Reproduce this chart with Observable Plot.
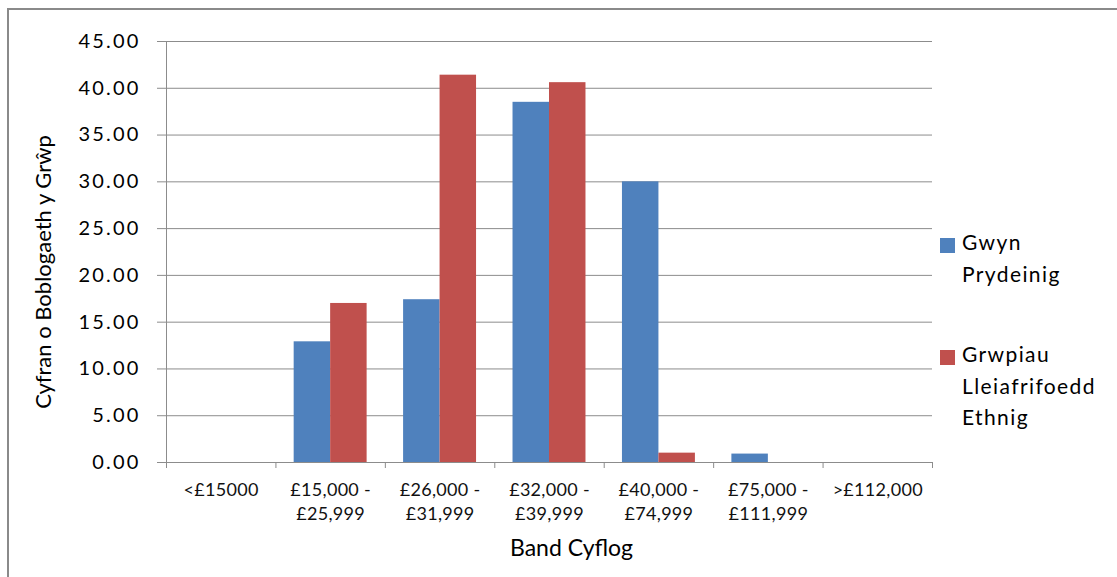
<!DOCTYPE html>
<html>
<head>
<meta charset="utf-8">
<script src="https://cdn.jsdelivr.net/npm/d3@7"></script>
<script src="https://cdn.jsdelivr.net/npm/@observablehq/plot@0.6"></script>
<style>
  html, body { margin: 0; padding: 0; background: #fff; overflow: hidden; }
  #wrap { position: relative; width: 1117px; height: 577px; font-family: Lato, "Open Sans", sans-serif; }
  #frame { position: absolute; left: 7px; top: 8px; width: 1200px; height: 700px; border: 2px solid #8a8a8a; box-sizing: border-box; }
  #chart { position: absolute; left: 0; top: 0; }
  #chart g[aria-label="y-axis tick label"] text { letter-spacing: 2.2px; }
  #chart g[aria-label="x-axis tick label"] text { letter-spacing: 0.3px; }
  #chart g[aria-label="x-title"] text { letter-spacing: 1.1px; }
  #chart g[aria-label="y-title"] text { letter-spacing: 2.4px; }
  .legend { position: absolute; left: 940px; font-size: 21px; line-height: 31.5px; color: #000; letter-spacing: 1.4px; }
  .legend .sw { position: absolute; left: 0; width: 15px; height: 15px; }
  .legend .lbl { position: absolute; left: 22px; white-space: nowrap; }
</style>
</head>
<body>
<div id="wrap">
  <div id="frame"></div>
  <div id="chart"></div>
  <div id="legend"></div>
</div>
<script>
// Salary bands (x categories)
const categories = [
  "<£15000",
  "£15,000 -\n£25,999",
  "£26,000 -\n£31,999",
  "£32,000 -\n£39,999",
  "£40,000 -\n£74,999",
  "£75,000 -\n£111,999",
  ">£112,000"
];

// Series names and values (% of group population)
const seriesNames = ["Gwyn Prydeinig", "Grwpiau Lleiafrifoedd Ethnig"];
const legendLines = [["Gwyn", "Prydeinig"], ["Grwpiau", "Lleiafrifoedd", "Ethnig"]];
const gwynPrydeinig = [0, 12.9, 17.4, 38.5, 30.0, 0.9, 0];
const grwpiauLleiafrifoeddEthnig = [0, 17.0, 41.4, 40.6, 1.0, 0, 0];
const seriesColors = ["#4F81BD", "#C0504D"];

// Axis ticks
const yTicks = [0, 5, 10, 15, 20, 25, 30, 35, 40, 45];
const yTitle = "Cyfran o Boblogaeth y Grŵp";
const xTitle = "Band Cyflog";

const seriesValues = [gwynPrydeinig, grwpiauLleiafrifoeddEthnig];
const rows = categories.flatMap((c, i) =>
  seriesValues.map((vals, s) => ({i, category: c, series: seriesNames[s], s, value: vals[i]}))
);

// Each band is one unit wide; the two bars share its middle two thirds
const nSeries = seriesNames.length;
const barW = 1 / (nSeries + 1);
const x1 = d => d.i + barW / 2 + d.s * barW;
const x2 = d => x1(d) + barW;

const gray = "#8c8c8c";

const chart = Plot.plot({
  width: 1117,
  height: 577,
  marginLeft: 166,
  marginRight: 185,
  marginTop: 41,
  marginBottom: 115,
  style: {fontFamily: "Lato, 'Open Sans', sans-serif", background: "transparent", overflow: "visible"},
  x: {type: "linear", domain: [0, categories.length]},
  y: {type: "linear", domain: [0, 45]},
  color: {domain: seriesNames, range: seriesColors},
  marks: [
    Plot.gridY(yTicks.filter(t => t > 0), {stroke: gray, strokeOpacity: 1, strokeWidth: 1}),
    Plot.rect(rows, {x1, x2, y1: 0, y2: "value", fill: "series"}),
    // axis lines
    Plot.ruleX([0], {stroke: gray, strokeWidth: 1}),
    Plot.ruleY([0], {stroke: gray, strokeWidth: 1}),
    // y axis ticks and labels
    Plot.axisY({
      ticks: yTicks, tickFormat: d3.format(".2f"), tickSize: 9, tickPadding: 17,
      stroke: gray, strokeOpacity: 1, fill: "#000", fontSize: 20, label: null
    }),
    // band boundary ticks
    Plot.axisX({
      ticks: d3.range(categories.length + 1), tickSize: 6, tickFormat: () => "",
      stroke: gray, strokeOpacity: 1, label: null
    }),
    // category labels centred in each band
    Plot.axisX({
      ticks: categories.map((c, i) => i + 0.5), tickSize: 0, tickPadding: 17,
      tickFormat: t => categories[Math.floor(t)], fill: "#111", fontSize: 18,
      lineHeight: 1.3, label: null
    }),
    // axis titles
    Plot.text([xTitle], {frameAnchor: "bottom", dy: 93, dx: 22, fontSize: 23, fill: "#000", ariaLabel: "x-title"}),
    Plot.text([yTitle], {frameAnchor: "left", textAnchor: "middle", rotate: -90, dx: -123, dy: 20, fontSize: 22, fill: "#000", ariaLabel: "y-title"})
  ]
});
document.getElementById("chart").appendChild(chart);

// Legend, one stacked block per series
const legend = document.getElementById("legend");
const legendTops = [226, 338];
seriesNames.forEach((name, s) => {
  const item = document.createElement("div");
  item.className = "legend";
  item.style.top = legendTops[s] + "px";
  const sw = document.createElement("div");
  sw.className = "sw";
  sw.style.background = seriesColors[s];
  sw.style.top = "12px";
  const lbl = document.createElement("div");
  lbl.className = "lbl";
  lbl.innerHTML = legendLines[s].join("<br>");
  item.appendChild(sw);
  item.appendChild(lbl);
  legend.appendChild(item);
});
</script>
</body>
</html>
